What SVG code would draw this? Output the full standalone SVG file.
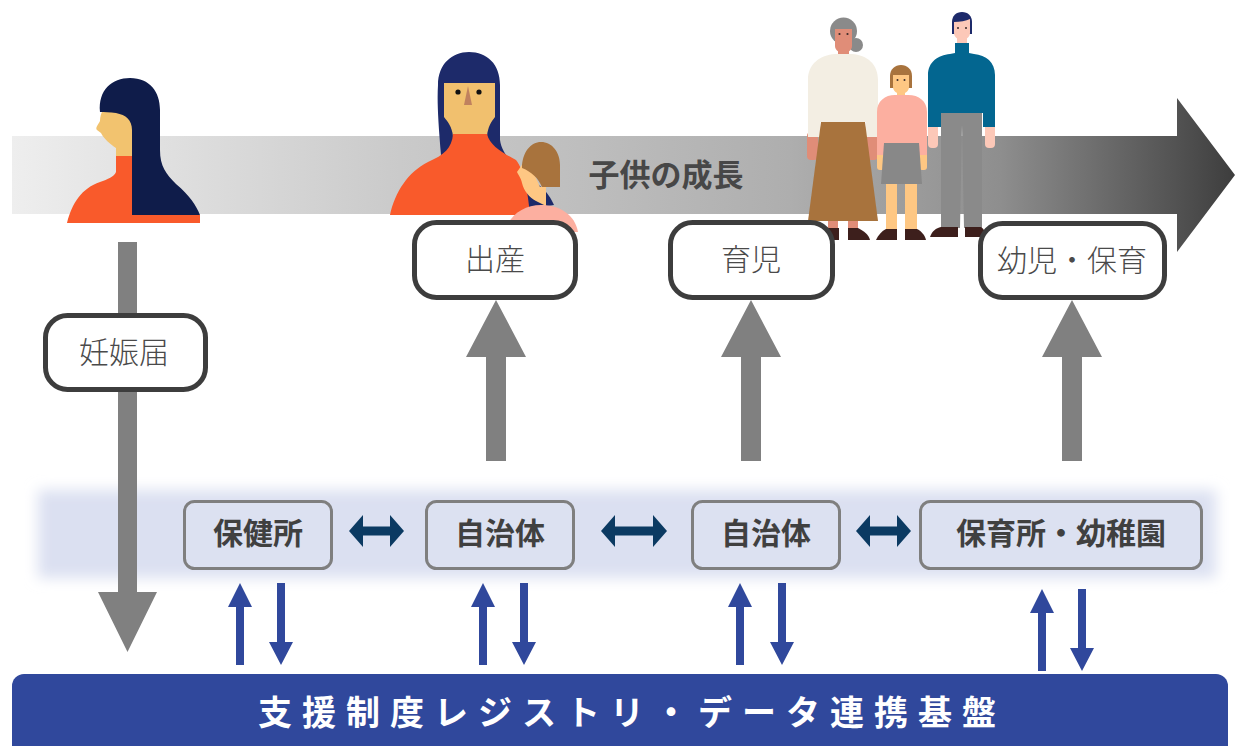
<svg xmlns="http://www.w3.org/2000/svg" width="1235" height="746" viewBox="0 0 1235 746">
  <defs>
    <linearGradient id="growthGrad" gradientUnits="userSpaceOnUse" x1="12" y1="0" x2="1235" y2="0">
      <stop offset="0" stop-color="#eeeeee"/>
      <stop offset="0.317" stop-color="#cacaca"/>
      <stop offset="0.464" stop-color="#bebebe"/>
      <stop offset="0.636" stop-color="#aeaeae"/>
      <stop offset="0.808" stop-color="#8e8e8e"/>
      <stop offset="0.953" stop-color="#525252"/>
      <stop offset="1" stop-color="#3d3d3d"/>
    </linearGradient>
    <filter id="soft" x="-5%" y="-30%" width="110%" height="160%">
      <feGaussianBlur stdDeviation="7"/>
    </filter>
  </defs>
  <style>
    .stage { fill: #ffffff; stroke: #3d3d3d; stroke-width: 5; }
    .stage-label { font-family: "Noto Sans CJK JP", "Noto Sans", sans-serif; font-size: 30px; font-weight: 300; fill: #4a4a4a; text-anchor: middle; }
    .org { fill: #dce1f1; stroke: #7f7f7f; stroke-width: 3; }
    .org-label { font-family: "Noto Sans CJK JP", "Noto Sans", sans-serif; font-size: 30px; font-weight: 700; fill: #404040; text-anchor: middle; }
    .gray-arrow { fill: #808080; }
    .link { fill: #0b3a62; }
    .data { fill: #30489c; }
    .title { font-family: "Noto Sans CJK JP", "Noto Sans", sans-serif; font-size: 31px; font-weight: 700; fill: #474747; text-anchor: middle; }
    .base-label { font-family: "Noto Sans CJK JP", "Noto Sans", sans-serif; font-size: 34px; font-weight: 700; fill: #ffffff; text-anchor: middle; letter-spacing: 10px; }
  </style>

  <!-- growth timeline arrow -->
  <g id="timeline">
    <path d="M12,136 L1177,136 L1177,98 L1235,175 L1177,252 L1177,214 L12,214 Z" fill="url(#growthGrad)"/>
    <text class="title" x="666" y="186">子供の成長</text>
  </g>

  <!-- pregnant woman (profile) -->
  <g id="person-pregnancy">
    <path d="M103,110 L132,112 L132,158 L116,158 L116,148 C110,144 104,139 101,133 L97,130 C95,128 98,125 100,121 C100,117 101,113 103,110 Z" fill="#f2c36f"/>
    <path d="M116,156 L140,156 L140,215 L200,215 L200,223 L67,223 C72,203 82,188 100,182 C108,179 114,177 116,172 Z" fill="#f95a2b"/>
    <path d="M100,112 C98,90 112,78 130,78 C150,78 160,92 160,110 L160,150 C160,166 166,174 176,184 C190,196 196,205 200,215 L132,215 L132,130 C132,120 126,115 116,113 C110,112 104,112 100,112 Z" fill="#0f1c4a"/>
  </g>

  <!-- mother with baby -->
  <g id="person-birth">
    <path d="M441,155 C438,120 437,100 438,85 C438,64 452,52 469,52 C487,52 500,64 500,85 L500,140 C503,160 522,170 540,186 C547,192 551,198 554,205 L520,210 L445,162 Z" fill="#1d2a6a"/>
    <path d="M444,83 L495,83 L495,117 C491,122 488,127 487,136 L453,136 C452,127 448,122 444,117 Z" fill="#f1c06e"/>
    <circle cx="458" cy="92" r="2.6" fill="#111111"/>
    <circle cx="479" cy="92" r="2.6" fill="#111111"/>
    <path d="M468,86 L464,105 L472,105 Z" fill="#c0815e"/>
    <path d="M453,134 L487,134 C490,146 503,153 516,160 C524,170 528,192 530,215 L390,215 C395,192 408,172 428,162 C444,155 452,148 453,134 Z" fill="#f95a2b"/>
    <path d="M527,158 C522,164 520,168 517,172 C519,176 521,178 522,183 C524,191 529,197 536,201 L546,206 L546,186 L540,187 Z" fill="#fec783"/>
    <path d="M522,168 C522,152 531,142 541,142 C552,142 560,152 560,165 L560,187 L542,187 C538,178 532,172 522,168 Z" fill="#a8733d"/>
    <path d="M505,232 C509,215 524,205 541,205 C560,205 575,215 578,232 Z" fill="#fcafa0"/>
  </g>

  <!-- family: grandmother, girl, father -->
  <g id="person-family">
    <!-- grandmother -->
    <circle cx="856" cy="45" r="7" fill="#8a8a8a"/>
    <circle cx="843.5" cy="31" r="13.5" fill="#8a8a8a"/>
    <path d="M835,29 L852,29 L852,46 C852,50 848,53 843.5,53 C839,53 835,50 835,46 Z" fill="#e08d78"/>
    <circle cx="839.5" cy="34" r="1.1" fill="#3a2a2a"/>
    <circle cx="847.5" cy="34" r="1.1" fill="#3a2a2a"/>
    <rect x="838" y="50" width="11" height="6" fill="#e08d78"/>
    <rect x="807" y="132" width="11" height="28" rx="4" fill="#e08d78"/>
    <rect x="867" y="132" width="11" height="28" rx="4" fill="#e08d78"/>
    <path d="M808,137 L808,80 C808,64 820,55 835,54 L852,54 C867,55 878,64 878,80 L878,137 L866,137 L866,122 L820,122 L820,137 Z" fill="#f3eee3"/>
    <rect x="828" y="218" width="10" height="12" fill="#e08d78"/>
    <rect x="848" y="218" width="10" height="12" fill="#e08d78"/>
    <path d="M821,122 L865,122 L878,221 L808,221 Z" fill="#a8733d"/>
    <path d="M828,228 L839,228 L839,240 L827,240 Z" fill="#3d1f1c"/>
    <path d="M848,228 L858,228 C864,231 869,235 870,240 L848,240 Z" fill="#3d1f1c"/>

    <!-- girl -->
    <path d="M890,88 L890,76 C890,69 895,65 901,65 C907,65 912,69 912,76 L912,88 Z" fill="#a8733d"/>
    <path d="M893,75 L909,75 L909,87 C909,91 905,94 901,94 C897,94 893,91 893,87 Z" fill="#fec783"/>
    <circle cx="897.5" cy="80" r="1" fill="#3a2a2a"/>
    <circle cx="904.5" cy="80" r="1" fill="#3a2a2a"/>
    <rect x="897" y="91" width="8" height="6" fill="#fec783"/>
    <rect x="877" y="150" width="8" height="20" rx="3" fill="#fec783"/>
    <rect x="919" y="150" width="8" height="20" rx="3" fill="#fec783"/>
    <rect x="886" y="180" width="11" height="50" fill="#fec783"/>
    <rect x="905" y="180" width="12" height="50" fill="#fec783"/>
    <path d="M877,155 L877,112 C877,101 885,95 895,95 L908,95 C919,95 927,101 927,112 L927,155 L919,155 L919,143 L885,143 L885,155 Z" fill="#fcafa0"/>
    <path d="M884,143 L919,143 L922,184 L881,184 Z" fill="#888888"/>
    <path d="M886,229 L897,229 L897,240 L876,240 C878,235 882,231 886,229 Z" fill="#3d1f1c"/>
    <path d="M905,229 L917,229 C921,231 925,235 926,240 L905,240 Z" fill="#3d1f1c"/>

    <!-- father -->
    <path d="M952,34 L952,22 C952,16 956,12 962,12 C968,12 972,16 972,22 L972,34 Z" fill="#1d2a6a"/>
    <path d="M954,22 C960,22 966,21 970,19 L970,33 C970,37 966,40 962,40 C958,40 954,37 954,33 Z" fill="#fcc8b8"/>
    <circle cx="958" cy="28" r="1" fill="#3a2a2a"/>
    <circle cx="966" cy="28" r="1" fill="#3a2a2a"/>
    <rect x="957" y="37" width="10" height="8" fill="#fcc8b8"/>
    <rect x="928" y="122" width="10" height="26" rx="4" fill="#fcc8b8"/>
    <rect x="985" y="122" width="10" height="26" rx="4" fill="#fcc8b8"/>
    <path d="M928,127 L928,75 C928,62 938,55 950,54 L955,53 L955,43 L969,43 L969,53 L974,54 C986,55 995,62 995,75 L995,127 L983,127 L983,113 L941,113 L941,127 Z" fill="#036690"/>
    <path d="M941,113 L982,113 L982,228 L964,228 L962,125 L960,228 L941,228 Z" fill="#8a8a8a"/>
    <path d="M941,227 L958,227 L958,237 L930,237 C932,231 936,228 941,227 Z" fill="#3d1f1c"/>
    <path d="M965,227 L981,227 C984,229 986,233 987,237 L965,237 Z" fill="#3d1f1c"/>
  </g>

  <!-- shared background band of the organisations -->
  <rect id="org-band" x="38" y="490" width="1178" height="88" fill="#dbe0f1" filter="url(#soft)"/>

  <!-- connectors -->
  <g id="connectors">
    <!-- from notice down to the platform -->
    <path class="gray-arrow" d="M118,242 L137,242 L137,592 L157,592 L127.5,652 L98,592 L118,592 Z"/>
    <!-- organisations up to life stages -->
    <path class="gray-arrow" d="M486,461 L486,357 L466,357 L496,300 L526,357 L506,357 L506,461 Z"/>
    <path class="gray-arrow" d="M741,461 L741,357 L721,357 L751,300 L781,357 L761,357 L761,461 Z"/>
    <path class="gray-arrow" d="M1062,461 L1062,357 L1042,357 L1072,300 L1102,357 L1082,357 L1082,461 Z"/>
    <!-- links between organisations -->
    <path class="link" d="M349,531 L363,515 L363,526.5 L390,526.5 L390,515 L404,531 L390,547 L390,535.5 L363,535.5 L363,547 Z"/>
    <path class="link" d="M601,531 L615,515 L615,526.5 L653,526.5 L653,515 L667,531 L653,547 L653,535.5 L615,535.5 L615,547 Z"/>
    <path class="link" d="M856,531 L870,515 L870,526.5 L897,526.5 L897,515 L911,531 L897,547 L897,535.5 L870,535.5 L870,547 Z"/>
    <!-- data exchange with the platform -->
    <path class="data" d="M236,665 L236,607 L228,607 L240,583 L252,607 L244,607 L244,665 Z"/>
    <path class="data" d="M277,583 L285,583 L285,642 L293,642 L281,665 L269,642 L277,642 Z"/>
    <path class="data" d="M479,665 L479,607 L471,607 L483,583 L495,607 L487,607 L487,665 Z"/>
    <path class="data" d="M520,583 L528,583 L528,642 L536,642 L524,665 L512,642 L520,642 Z"/>
    <path class="data" d="M736,665 L736,607 L728,607 L740,583 L752,607 L744,607 L744,665 Z"/>
    <path class="data" d="M778,583 L786,583 L786,642 L794,642 L782,665 L770,642 L778,642 Z"/>
    <path class="data" d="M1038,671 L1038,613 L1030,613 L1042,589 L1054,613 L1046,613 L1046,671 Z"/>
    <path class="data" d="M1078,589 L1086,589 L1086,648 L1094,648 L1082,671 L1070,648 L1078,648 Z"/>
  </g>

  <!-- life stages -->
  <g id="stage-notice">
    <rect class="stage" x="45.5" y="315.5" width="160" height="74" rx="22"/>
    <text class="stage-label" x="124" y="363">妊娠届</text>
  </g>
  <g id="stage-birth">
    <rect class="stage" x="414.5" y="222.5" width="161" height="75" rx="22"/>
    <text class="stage-label" x="495" y="270">出産</text>
  </g>
  <g id="stage-childcare">
    <rect class="stage" x="670.5" y="222.5" width="162" height="75" rx="22"/>
    <text class="stage-label" x="751" y="270">育児</text>
  </g>
  <g id="stage-preschool">
    <rect class="stage" x="980.5" y="223.5" width="184" height="74" rx="22"/>
    <text class="stage-label" x="1072" y="271">幼児・保育</text>
  </g>

  <!-- organisations -->
  <g id="org-health">
    <rect class="org" x="184.5" y="501.5" width="147" height="67" rx="10"/>
    <text class="org-label" x="258" y="544">保健所</text>
  </g>
  <g id="org-municipality-1">
    <rect class="org" x="426.5" y="501.5" width="147" height="67" rx="10"/>
    <text class="org-label" x="500" y="544">自治体</text>
  </g>
  <g id="org-municipality-2">
    <rect class="org" x="692.5" y="501.5" width="147" height="67" rx="10"/>
    <text class="org-label" x="766" y="544">自治体</text>
  </g>
  <g id="org-nursery">
    <rect class="org" x="920.5" y="501.5" width="281" height="67" rx="10"/>
    <text class="org-label" x="1061" y="544">保育所・幼稚園</text>
  </g>

  <!-- data platform -->
  <g id="platform">
    <rect x="12" y="674" width="1216" height="90" rx="12" fill="#30489c"/>
    <text class="base-label" x="632" y="725">支援制度レジストリ・データ連携基盤</text>
  </g>
</svg>
